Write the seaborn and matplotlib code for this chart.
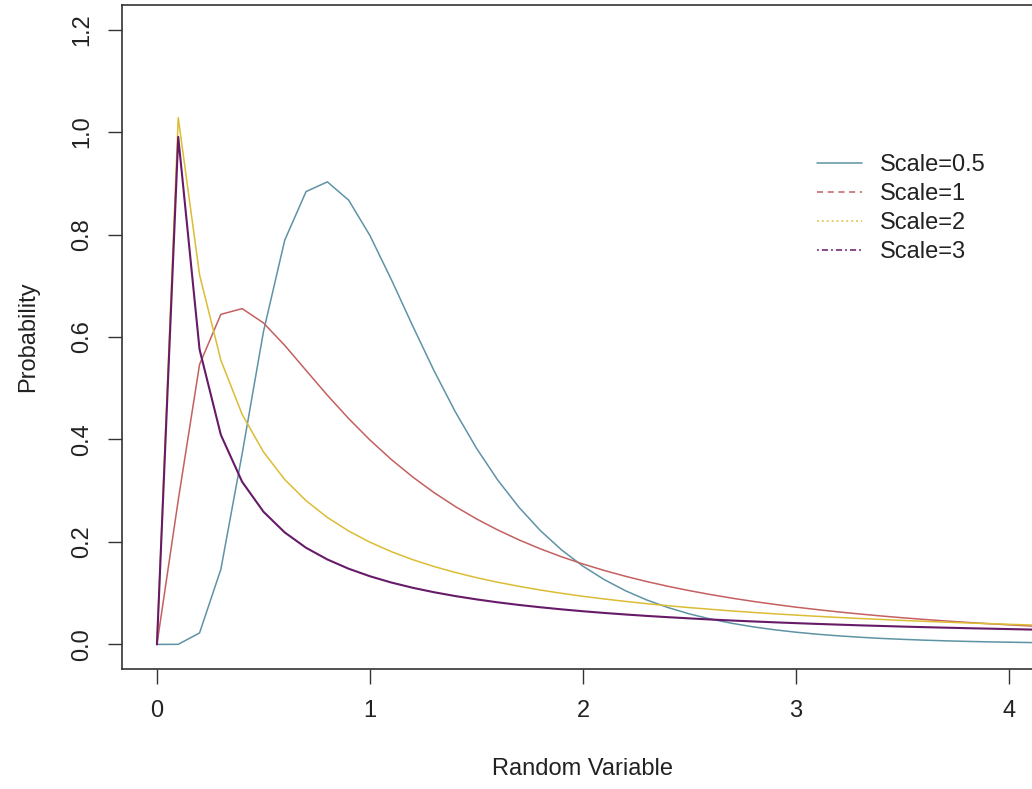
import numpy as np
import pandas as pd
import matplotlib
matplotlib.use("Agg")
import matplotlib.pyplot as plt
from matplotlib.lines import Line2D
import seaborn as sns

x_vals = [0.0, 0.1, 0.2, 0.3, 0.4, 0.5, 0.6, 0.7, 0.8, 0.9, 1.0,
          1.1, 1.2, 1.3, 1.4, 1.5, 1.6, 1.7, 1.8, 1.9, 2.0,
          2.1, 2.2, 2.3, 2.4, 2.5, 2.6, 2.7, 2.8, 2.9, 3.0,
          3.1, 3.2, 3.3, 3.4, 3.5, 3.6, 3.7, 3.8, 3.9, 4.0,
          4.1, 4.2]

scale_05 = [0.0, 0.0002, 0.0224, 0.1465, 0.3721, 0.6105, 0.7891, 0.8838, 0.9028, 0.8671, 0.7979,
            0.7123, 0.6221, 0.5348, 0.4544, 0.3829, 0.3206, 0.2673, 0.2221, 0.1842, 0.1526,
            0.1264, 0.1046, 0.0866, 0.0718, 0.0595, 0.0494, 0.0411, 0.0342, 0.0285, 0.0238,
            0.0199, 0.0167, 0.0140, 0.0117, 0.0099, 0.0083, 0.0070, 0.0059, 0.0050, 0.0043,
            0.0036, 0.0031]

scale_1 = [0.0, 0.2816, 0.5463, 0.6442, 0.6554, 0.6275, 0.5836, 0.5348, 0.4864, 0.4408, 0.3989,
           0.3610, 0.3270, 0.2965, 0.2693, 0.2450, 0.2233, 0.2039, 0.1865, 0.1709, 0.1569,
           0.1443, 0.1329, 0.1226, 0.1133, 0.1049, 0.0972, 0.0902, 0.0839, 0.0781, 0.0727,
           0.0679, 0.0634, 0.0593, 0.0555, 0.0520, 0.0488, 0.0458, 0.0431, 0.0405, 0.0382,
           0.0360, 0.0339]

scale_2 = [0.0, 1.0282, 0.7215, 0.5547, 0.4490, 0.3757, 0.3218, 0.2805, 0.2478, 0.2213, 0.1995,
           0.1811, 0.1655, 0.1521, 0.1405, 0.1303, 0.1213, 0.1133, 0.1061, 0.0997, 0.0939,
           0.0887, 0.0839, 0.0795, 0.0755, 0.0718, 0.0685, 0.0653, 0.0624, 0.0597, 0.0572,
           0.0548, 0.0526, 0.0506, 0.0487, 0.0468, 0.0451, 0.0435, 0.0420, 0.0406, 0.0392,
           0.0379, 0.0367]

scale_3 = [0.0, 0.9905, 0.5758, 0.4090, 0.3173, 0.2590, 0.2185, 0.1886, 0.1658, 0.1477, 0.1330,
           0.1208, 0.1106, 0.1019, 0.0944, 0.0879, 0.0821, 0.0770, 0.0725, 0.0684, 0.0647,
           0.0614, 0.0584, 0.0556, 0.0531, 0.0508, 0.0486, 0.0466, 0.0448, 0.0431, 0.0415,
           0.0400, 0.0386, 0.0372, 0.0360, 0.0348, 0.0337, 0.0327, 0.0317, 0.0308, 0.0299,
           0.0290, 0.0282]

series_labels = ["Scale=0.5", "Scale=1", "Scale=2", "Scale=3"]
series_values = [scale_05, scale_1, scale_2, scale_3]
colors = ["#5e93a5", "#c4605f", "#dcbc34", "#661a68"]
legend_styles = ["-", (0, (4, 3)), (0, (1.2, 2)), (0, (1.2, 2, 4, 2))]
widths = [1.1, 1.1, 1.1, 1.5]

x_ticks = [0, 1, 2, 3, 4]
y_ticks = [0.0, 0.2, 0.4, 0.6, 0.8, 1.0, 1.2]
y_tick_labels = ["0.0", "0.2", "0.4", "0.6", "0.8", "1.0", "1.2"]

sns.set_style("white")
plt.rcParams["font.family"] = ["Liberation Sans", "DejaVu Sans"]

fig = plt.figure(figsize=(10.32, 7.89), dpi=100)
ax = fig.add_axes([122 / 1032, 120 / 789, 922 / 1032, 664 / 789])

for lab, vals, c, lw in zip(series_labels, series_values, colors, widths):
    df = pd.DataFrame({"x": x_vals, "y": vals})
    sns.lineplot(data=df, x="x", y="y", ax=ax, color=c, linewidth=lw,
                 estimator=None, sort=False, legend=False)

ax.set_xlim(-0.164, 4.164)
ax.set_ylim(-0.048, 1.248)
ax.set_xticks(x_ticks)
ax.set_xticklabels([str(t) for t in x_ticks])
ax.set_yticks(y_ticks)
ax.set_yticklabels(y_tick_labels, rotation=90, va="center")
ax.tick_params(axis="x", direction="out", length=10.5, width=1, color="#333333",
               labelsize=17, labelcolor="#222222", pad=11.8, bottom=True)
ax.tick_params(axis="y", direction="out", length=10, width=1, color="#333333",
               labelsize=17, labelcolor="#222222", pad=10.5, left=True)
for s in ax.spines.values():
    s.set_color("#333333")
    s.set_linewidth(1.2)

ax.set_xlabel("Random Variable", fontsize=17, color="#222222", labelpad=26)
ax.set_ylabel("Probability", fontsize=17, color="#222222", labelpad=23)

handles = [Line2D([], [], color=c, linewidth=1.1, linestyle=ls)
           for c, ls in zip(colors, legend_styles)]
leg = ax.legend(handles, series_labels, loc="upper left",
                bbox_to_anchor=(0.7436, 0.79), frameon=False,
                fontsize=17, handlelength=1.9, handletextpad=0.76, labelspacing=0.3,
                borderaxespad=0)
for t in leg.get_texts():
    t.set_color("#222222")

fig.savefig("out.png", dpi=100)
